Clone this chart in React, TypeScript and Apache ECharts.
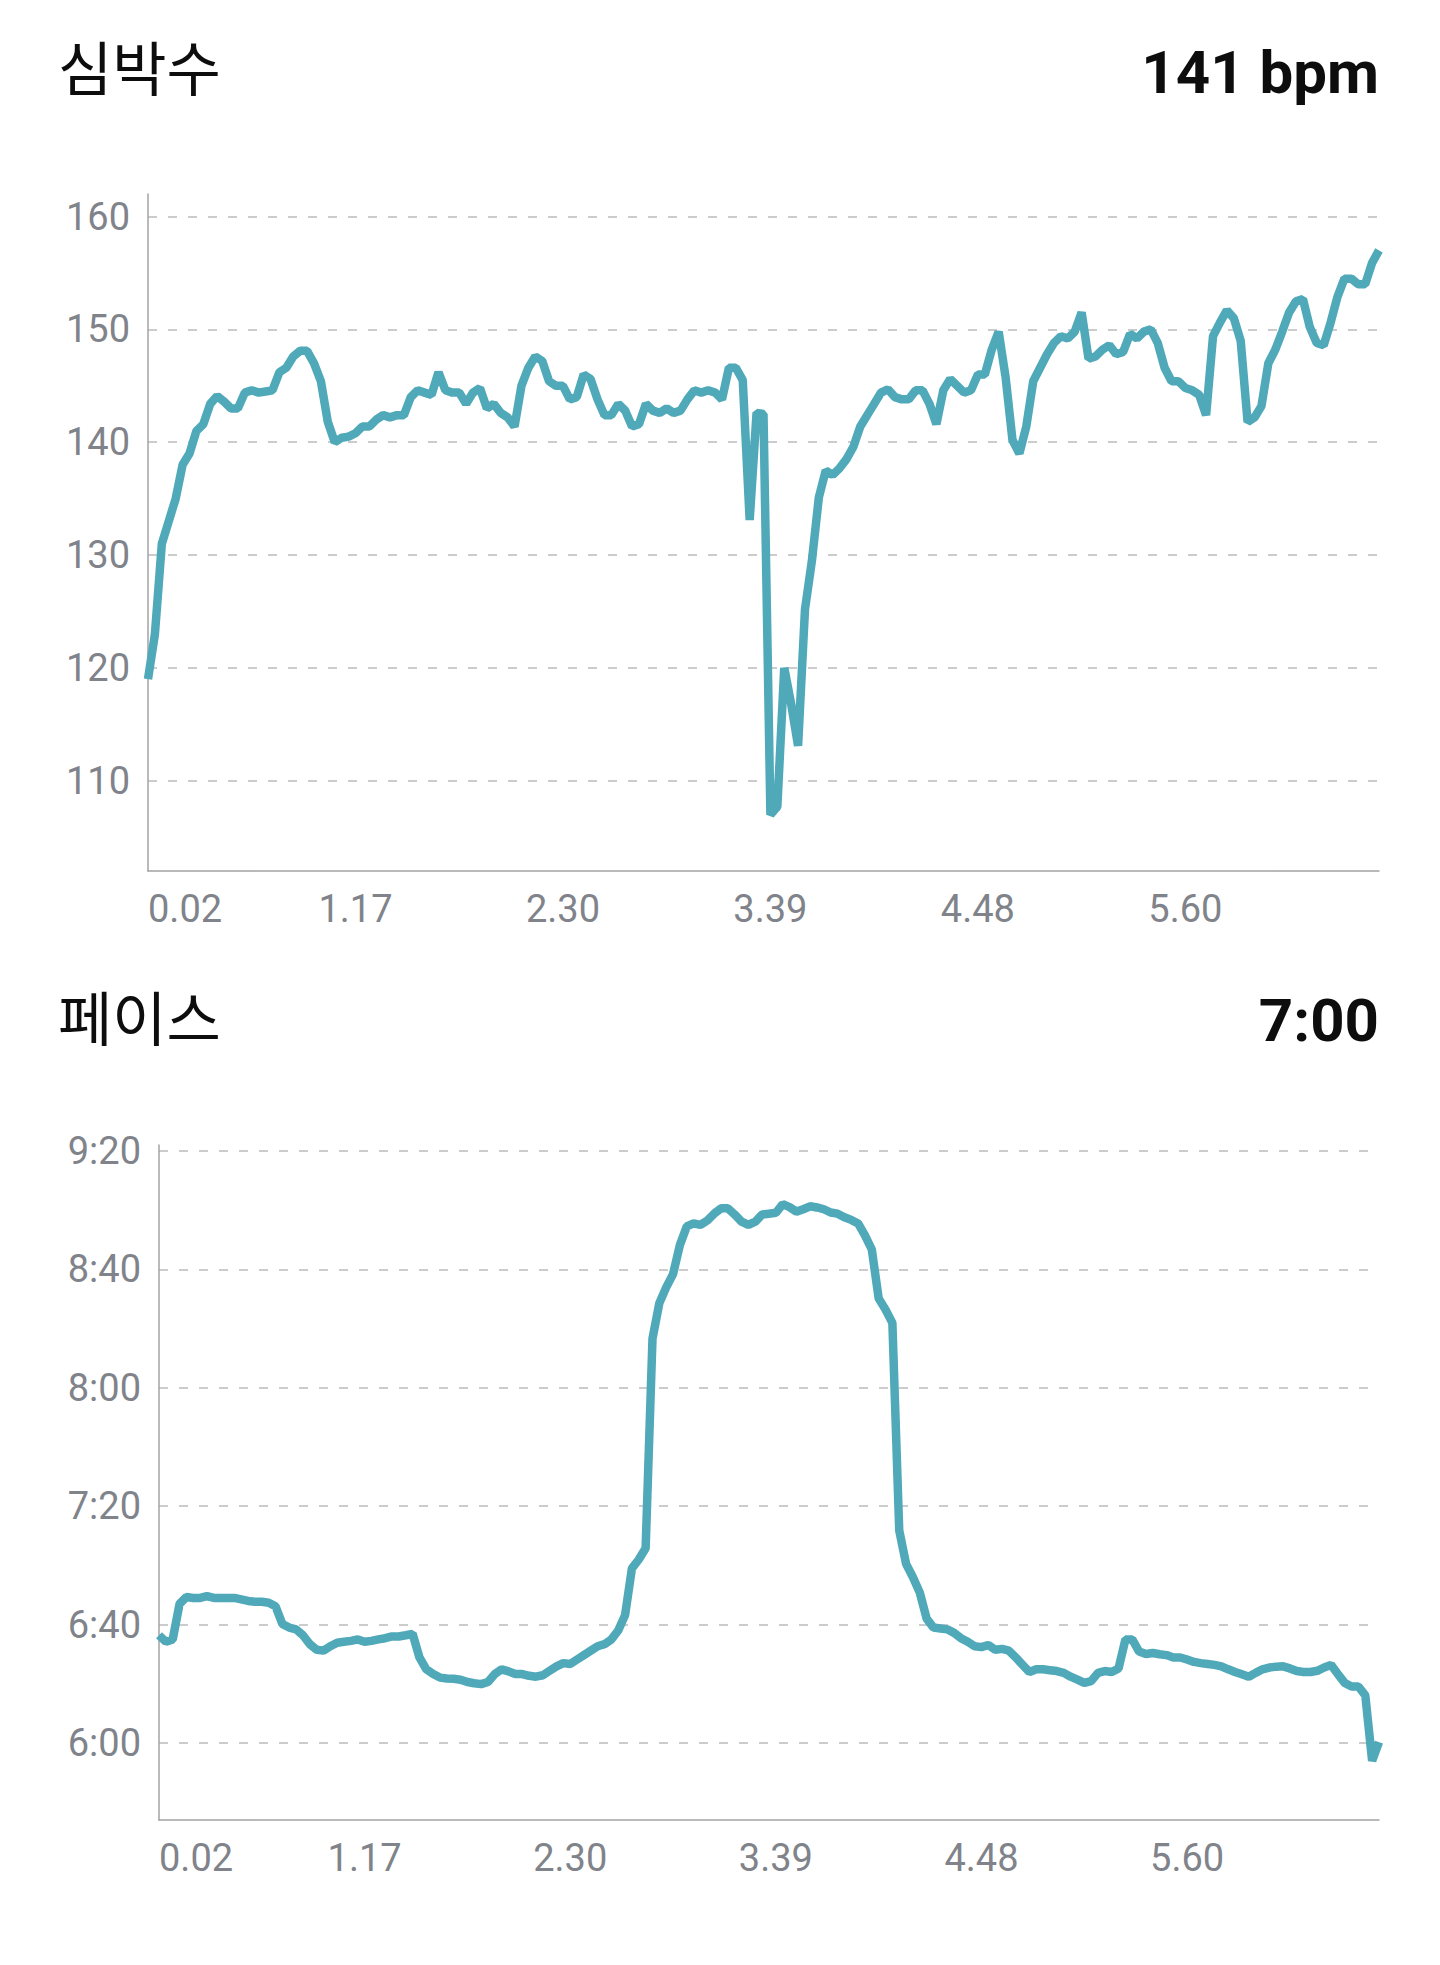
import React, { useEffect, useRef } from "react";
import * as echarts from "echarts";

// ---- data ----
const xTickLabels = ["0.02", "1.17", "2.30", "3.39", "4.48", "5.60"];
const TICK_STEP = 30;

const hrTicks = [110, 120, 130, 140, 150, 160];
const paceTicks = [360, 400, 440, 480, 520, 560];

const hrTitle = "심박수";
const hrValue = "141 bpm";
const paceTitle = "페이스";
const paceValue = "7:00";

const heartRate = [
  119, 123, 131, 133, 135, 138, 139, 141, 141.6, 143.4,
  144.1, 143.6, 143, 143, 144.4, 144.6, 144.4, 144.5, 144.6, 146.2,
  146.6, 147.6, 148.1, 148.1, 147, 145.4, 141.8, 140, 140.4, 140.5,
  140.8, 141.4, 141.4, 142, 142.4, 142.2, 142.4, 142.4, 144, 144.6,
  144.4, 144.2, 146.2, 144.6, 144.4, 144.4, 143.4, 144.4, 144.8, 143,
  143.4, 142.6, 142.2, 141.4, 145, 146.6, 147.6, 147.2, 145.4, 145,
  145, 143.8, 144, 146, 145.6, 143.8, 142.4, 142.4, 143.4, 142.8,
  141.4, 141.6, 143.4, 142.8, 142.6, 143, 142.6, 142.8, 143.8, 144.6,
  144.4, 144.6, 144.4, 143.8, 146.6, 146.6, 145.5, 133.1, 142.6, 142.5,
  107, 107.7, 120, 116.8, 113.1, 125.2, 129.5, 135.1, 137.5, 137.1,
  137.7, 138.5, 139.6, 141.4, 142.4, 143.4, 144.4, 144.7, 144, 143.8,
  143.8, 144.6, 144.6, 143.4, 141.6, 144.6, 145.6, 145, 144.4, 144.6,
  146, 146, 148.2, 149.8, 145.8, 140.2, 139, 141.4, 145.4, 146.6,
  147.8, 148.8, 149.4, 149.2, 149.8, 151.5, 147.4, 147.6, 148.2, 148.6,
  147.8, 148, 149.6, 149.2, 149.8, 150, 148.8, 146.6, 145.4, 145.4,
  144.8, 144.6, 144.2, 142.4, 149.4, 150.6, 151.7, 151, 149, 141.8,
  142.2, 143.2, 147, 148.2, 149.8, 151.5, 152.5, 152.7, 150.2, 148.8,
  148.6, 150.6, 152.9, 154.5, 154.5, 154, 154, 155.9, 157,
];

// pace in seconds per km
const pace = [
  396.4, 394.2, 395, 407, 409.3, 409, 409, 409.6, 409, 409,
  409, 409, 408.5, 408, 407.7, 407.7, 407.4, 406.2, 400.2, 399,
  398.4, 396.4, 393.4, 391.5, 391.2, 392.7, 393.9, 394.2, 394.5, 395,
  394.2, 394.5, 395, 395.4, 396, 396, 396.4, 396.9, 388.9, 384.9,
  383.3, 382.1, 381.8, 381.7, 381.4, 380.6, 380.2, 379.9, 380.6, 383.3,
  384.9, 384.2, 383.3, 383.3, 382.7, 382.4, 382.9, 384.4, 385.9, 387,
  386.7, 388.2, 389.7, 391.2, 392.7, 393.4, 395, 398, 403.2, 419,
  422, 425.8, 496.6, 508.6, 513.9, 518.4, 528.2, 534.5, 535.5, 535,
  536.5, 538.8, 540.6, 540.6, 538.5, 536.1, 535, 536.1, 538.5, 538.8,
  539.1, 542, 541, 539.5, 540.3, 541.3, 540.9, 540.3, 539.2, 538.8,
  537.6, 536.7, 535.5, 531.5, 526.7, 510.2, 506.4, 501.9, 431.8, 420.5,
  416, 410.8, 402, 399, 398.7, 398.4, 397.2, 395.4, 394.2, 392.7,
  392.4, 393.1, 391.5, 391.8, 391.2, 388.9, 386.4, 384, 384.9, 384.9,
  384.6, 384.3, 383.7, 382.4, 381.4, 380.3, 380.9, 383.7, 384.3, 384,
  385.2, 395, 395, 390.9, 390.1, 390.4, 390, 389.7, 388.9, 388.9,
  388.2, 387.4, 387, 386.7, 386.4, 385.9, 384.9, 384, 383.2, 382.4,
  383.7, 384.9, 385.5, 385.8, 385.9, 385.2, 384.3, 384, 384, 384.4,
  385.5, 386.4, 383.3, 380.3, 379.1, 379.1, 376.1, 354, 360.3,
];

const fmtPace = (s: number) => {
  const m = Math.floor(s / 60);
  const r = Math.round(s - m * 60);
  return `${m}:${String(r).padStart(2, "0")}`;
};

const LINE_COLOR = "#50a9b9";
const LABEL_COLOR = "#80838a";
const AXIS_COLOR = "#a3a3a3";
const GRID_COLOR = "#bcbcbc";

export default function App() {
  const ref = useRef<HTMLDivElement>(null);

  useEffect(() => {
    if (!ref.current) return;
    const chart = echarts.init(ref.current, undefined, { renderer: "svg" });
    const idx = heartRate.map((_, i) => String(i));

    const hrMin = Math.min(...heartRate) - 5;
    const hrMax = Math.max(...heartRate) + 5;
    const paceMin = Math.min(...pace) - 20;
    const paceMax = Math.max(...pace) + 20;

    const xAxis = (gridIndex: number) => ({
      type: "category",
      gridIndex,
      data: idx,
      boundaryGap: false,
      axisLine: { show: true, lineStyle: { color: AXIS_COLOR, width: 1.5 } },
      axisTick: { show: false },
      splitLine: { show: false },
      axisLabel: {
        interval: (i: number) => i % TICK_STEP === 0,
        formatter: (_v: string, i: number) => xTickLabels[i / TICK_STEP] ?? "",
        color: LABEL_COLOR,
        fontFamily: "Roboto",
        fontSize: 38,
        margin: 19,
        alignMinLabel: "left",
      },
    });

    const yAxis = (gridIndex: number, min: number, max: number, ticks: number[], fmt: (v: number) => string) => ({
      type: "value",
      gridIndex,
      min,
      max,
      axisLine: { show: true, lineStyle: { color: AXIS_COLOR, width: 1.5 } },
      axisTick: { show: false, customValues: ticks },
      axisLabel: {
        customValues: ticks,
        formatter: (v: number) => fmt(v),
        color: LABEL_COLOR,
        fontFamily: "Roboto",
        fontSize: 38,
        margin: 18,
      },
      splitLine: {
        show: true,
        lineStyle: { type: [9, 11], color: GRID_COLOR, width: 1.5 },
      },
    });

    const titleStyle = { fontFamily: "Noto Sans CJK KR", fontSize: 59, fontWeight: "normal", color: "#0d0d0d" };
    const valueStyle = { fontFamily: "Roboto", fontSize: 60, fontWeight: "bold", color: "#0d0d0d" };

    chart.setOption({
      animation: false,
      backgroundColor: "#ffffff",
      title: [
        { text: hrTitle, left: 58, top: 36, padding: 0, textStyle: titleStyle },
        { text: hrValue, right: 61, top: 42, padding: 0, textStyle: valueStyle },
        { text: paceTitle, left: 58, top: 986, padding: 0, textStyle: titleStyle },
        { text: paceValue, right: 61, top: 990, padding: 0, textStyle: valueStyle },
      ],
      grid: [
        { left: 148, right: 61, top: 194, height: 677 },
        { left: 159, right: 61, top: 1145, height: 675 },
      ],
      xAxis: [xAxis(0), xAxis(1)],
      yAxis: [
        yAxis(0, hrMin, hrMax, hrTicks, (v) => String(v)),
        yAxis(1, paceMin, paceMax, paceTicks, fmtPace),
      ],
      series: [
        {
          type: "line",
          xAxisIndex: 0,
          yAxisIndex: 0,
          data: heartRate,
          symbol: "none",
          lineStyle: { color: LINE_COLOR, width: 8.5 },
        },
        {
          type: "line",
          xAxisIndex: 1,
          yAxisIndex: 1,
          data: pace,
          symbol: "none",
          lineStyle: { color: LINE_COLOR, width: 8.5 },
        },
      ],
    });

    return () => chart.dispose();
  }, []);

  return (
    <div
      ref={ref}
      style={{ position: "absolute", left: 0, top: 0, width: 1440, height: 1965, background: "#fff" }}
    />
  );
}
